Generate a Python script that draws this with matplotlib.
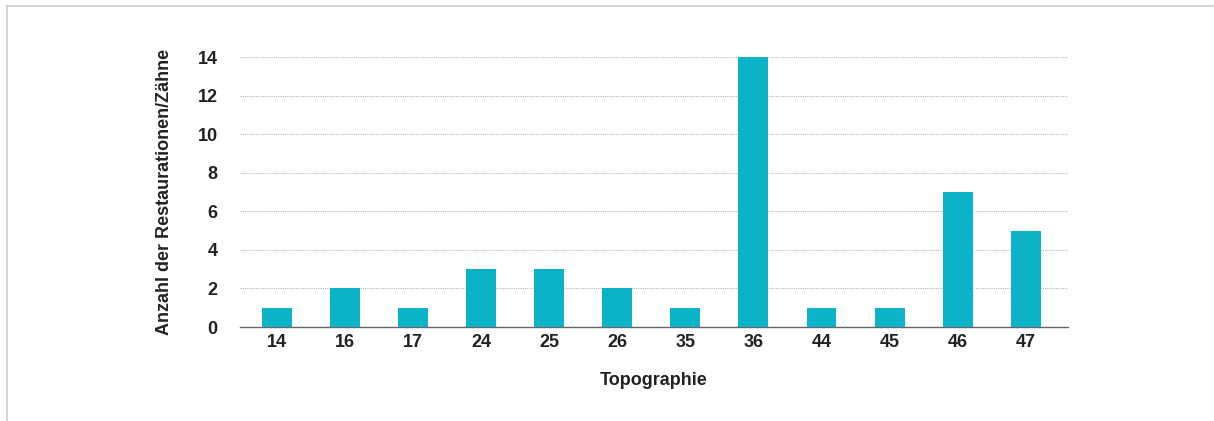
import numpy as np
import matplotlib.pyplot as plt
from matplotlib.lines import Line2D

plt.rcParams['font.family'] = ['Liberation Sans', 'DejaVu Sans']
plt.rcParams['font.weight'] = 'bold'

# Tooth positions and restoration counts
teeth = ['14', '16', '17', '24', '25', '26', '35', '36', '44', '45', '46', '47']
counts = [1, 2, 1, 3, 3, 2, 1, 14, 1, 1, 7, 5]
y_ticks = [0, 2, 4, 6, 8, 10, 12, 14]

fig = plt.figure(figsize=(12.14, 4.21), dpi=100)
ax = fig.add_axes([240 / 1214, 1 - 327 / 421, 828 / 1214, 270 / 421])

x = np.arange(len(teeth))
ax.bar(x, counts, width=0.44, color='#0cb2c7', zorder=3)

ax.set_xlim(-0.54, 11.62)
ax.set_ylim(0, 14)
ax.set_yticks(y_ticks)
ax.set_xticks(x)
ax.set_xticklabels(teeth)
ax.tick_params(axis='both', length=0, labelsize=13, colors='#222222')
ax.tick_params(axis='y', pad=16)
ax.tick_params(axis='x', pad=5)

ax.yaxis.grid(True, linestyle=(0, (1, 1)), color='#b8b8b8', linewidth=0.8, zorder=0)
for side in ['top', 'right', 'left']:
    ax.spines[side].set_visible(False)
ax.spines['bottom'].set_color('#666666')
ax.spines['bottom'].set_linewidth(1.0)

ax.set_ylabel('Anzahl der Restaurationen/Zähne', fontsize=13, fontweight='bold',
              color='#222222', labelpad=18)
ax.set_xlabel('Topographie', fontsize=13, fontweight='bold', color='#222222', labelpad=15)

# thin frame around the chart area (top and left edges)
fig.add_artist(Line2D([7 / 1214, 1213 / 1214], [1 - 6 / 421, 1 - 6 / 421],
                      color='#cccccc', linewidth=1.2))
fig.add_artist(Line2D([7 / 1214, 7 / 1214], [0, 1 - 6 / 421],
                      color='#cccccc', linewidth=1.2))

fig.savefig('out.png', dpi=100)
